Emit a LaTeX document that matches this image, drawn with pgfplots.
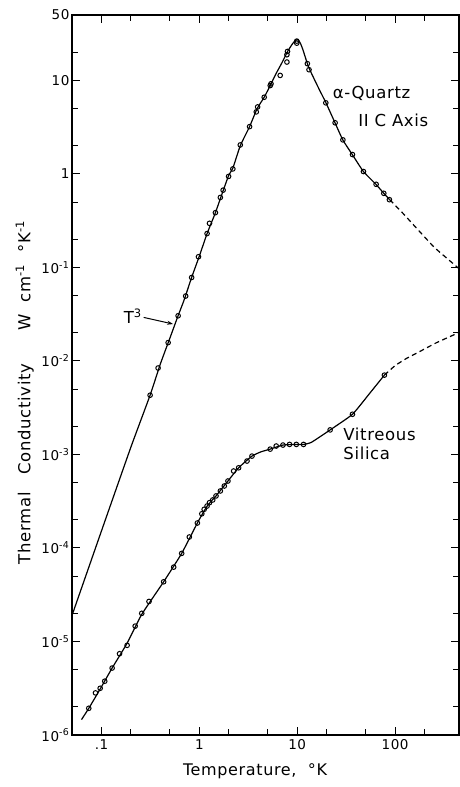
\documentclass[border=0pt]{standalone}
\usepackage{fontspec}
\setmainfont{DejaVu Sans}[LetterSpace=4]
\usepackage{pgfplots}
\pgfplotsset{compat=1.18}
\usetikzlibrary{arrows.meta}

% alpha-quartz, parallel to c axis: measured points
\pgfplotstableread{
T k
0.314 4.3e-3
0.379 8.4e-3
0.48 0.0157
0.607 0.0304
0.725 0.0494
0.834 0.078
0.98 0.130
1.2 0.23
1.27 0.296
1.46 0.385
1.64 0.56
1.75 0.67
1.99 0.94
2.2 1.13
2.62 2.04
3.26 3.2
3.82 4.6
3.94 5.2
4.6 6.6
5.3 8.8
5.4 9.2
6.7 11.3
7.85 15.7
7.85 18.8
7.96 20.4
9.9 25
9.9 26.3
12.7 15.1
13.2 13.0
19.6 5.75
24.4 3.52
29.3 2.31
36.7 1.61
47.5 1.06
64 0.774
76.7 0.62
87.5 0.53
}\quartzpts

% alpha-quartz: drawn curve
\pgfplotstableread{
T k
0.05 1.9e-5
0.1 1.52e-4
0.2 1.2e-3
0.314 4.3e-3
0.4 9.3e-3
0.5 0.0175
0.6 0.0295
0.7 0.045
0.834 0.078
1.0 0.132
1.2 0.23
1.46 0.385
1.75 0.66
2.0 0.97
2.2 1.15
2.62 2.0
3.26 3.2
3.9 5.0
4.6 6.6
5.3 8.8
6.0 11.5
7.0 15.5
8.0 20.5
9.0 24.8
9.7 27.0
10.2 27.3
10.8 24.8
11.4 21.5
12.2 17.2
13.1 13.8
15.0 10.2
17.0 7.8
19.6 5.8
24.4 3.5
29.3 2.3
36.7 1.6
47.5 1.06
64 0.77
76.7 0.62
88 0.53
}\quartzline

% alpha-quartz: extrapolated part
\pgfplotstableread{
T k
88 0.53
120 0.38
170 0.255
250 0.165
342 0.124
450 0.097
}\quartzext

% vitreous silica: measured points
\pgfplotstableread{
T k
0.0742 1.93e-6
0.0869 2.82e-6
0.097 3.16e-6
0.108 3.76e-6
0.1285 5.2e-6
0.153 7.4e-6
0.183 9.1e-6
0.221 1.46e-5
0.258 2.0e-5
0.306 2.68e-5
0.432 4.35e-5
0.547 6.24e-5
0.66 8.75e-5
0.79 1.31e-4
0.955 1.85e-4
1.06 2.32e-4
1.12 2.59e-4
1.2 2.81e-4
1.27 3.05e-4
1.37 3.26e-4
1.48 3.6e-4
1.64 4.07e-4
1.8 4.6e-4
1.96 5.2e-4
2.24 6.65e-4
2.52 7.2e-4
3.07 8.5e-4
3.45 9.6e-4
5.3 1.14e-3
6.1 1.23e-3
7.15 1.26e-3
8.35 1.28e-3
9.8 1.28e-3
11.6 1.28e-3
21.7 1.83e-3
36.7 2.69e-3
77.8 7.05e-3
}\silicapts

% vitreous silica: drawn curve
\pgfplotstableread{
T k
0.0625 1.46e-6
0.0742 1.93e-6
0.097 3.1e-6
0.1285 5.2e-6
0.183 9.6e-6
0.258 1.95e-5
0.432 4.35e-5
0.66 8.75e-5
0.955 1.85e-4
1.2 2.8e-4
1.48 3.6e-4
1.96 5.2e-4
2.52 7.2e-4
3.45 9.6e-4
4.3 1.07e-3
5.3 1.14e-3
7.15 1.26e-3
9.8 1.28e-3
11.6 1.28e-3
14.0 1.35e-3
21.7 1.83e-3
36.7 2.69e-3
55 4.5e-3
77.8 7.05e-3
}\silicaline

% vitreous silica: extrapolated part
\pgfplotstableread{
T k
77.8 7.05e-3
100 8.9e-3
130 0.0106
166 0.0121
266 0.0157
450 0.0201
}\silicaext

\begin{document}
\begin{tikzpicture}
\begin{axis}[
  at={(0,0)}, anchor=south west,
  scale only axis, width=387pt, height=720pt,
  xmode=log, ymode=log,
  xmin=0.05, xmax=450, ymin=1e-6, ymax=50,
  axis line style={line width=1.1pt},
  tick align=inside,
  major tick length=8pt, minor tick length=6pt,
  every tick/.style={black, line width=1pt},
  xtick={0.1,1,10,100},
  xticklabels={.1,1,10,100},
  minor xtick={0.2,0.5,2,5,20,50,200},
  ytick={1e-6,1e-5,1e-4,1e-3,1e-2,1e-1,1,10,50},
  yticklabels={10\textsuperscript{-6},10\textsuperscript{-5},10\textsuperscript{-4},10\textsuperscript{-3},10\textsuperscript{-2},10\textsuperscript{-1},1,10,50},
  minor ytick={2e-6,5e-6,2e-5,5e-5,2e-4,5e-4,2e-3,5e-3,2e-2,5e-2,0.2,0.5,2,5,20},
  tick label style={font=\fontsize{13.5}{15}\selectfont},
  xticklabel style={yshift=-1pt},
  yticklabel style={xshift=1pt},
  xlabel={Temperature,\ \ °K},
  ylabel={Thermal\ \ \ Conductivity\qquad W\ \ cm\textsuperscript{-1}\ \ °K\textsuperscript{-1}},
  xlabel style={at={(axis description cs:0.473,-0.051)}, anchor=center, font=\fontsize{16}{18}\selectfont},
  ylabel style={at={(axis description cs:-0.122,0.476)}, anchor=center, rotate=0, font=\fontsize{16.5}{18}\selectfont},
  clip=false,
]
% alpha-quartz
\addplot[black, line width=1.2pt, no marks, smooth, tension=0.3] table[x=T, y=k] {\quartzline};
\addplot[black, line width=1.2pt, no marks, smooth, tension=0.3, dash pattern=on 5pt off 3.5pt] table[x=T, y=k] {\quartzext};
\addplot[only marks, mark=o, mark size=2.3pt, mark options={black, fill=white, line width=1pt}] table[x=T, y=k] {\quartzpts};
% vitreous silica
\addplot[black, line width=1.2pt, no marks, smooth, tension=0.3] table[x=T, y=k] {\silicaline};
\addplot[black, line width=1.2pt, no marks, smooth, tension=0.3, dash pattern=on 5pt off 3.5pt] table[x=T, y=k] {\silicaext};
\addplot[only marks, mark=o, mark size=2.3pt, mark options={black, fill=white, line width=1pt}] table[x=T, y=k] {\silicapts};

% annotations
\node[anchor=west, font=\fontsize{16.5}{18}\selectfont, inner sep=0pt] at (axis cs:23,7.2) {α-Quartz};
\node[anchor=west, font=\fontsize{16.5}{18}\selectfont, inner sep=0pt] at (axis cs:41.9,3.72) {II C Axis};
\node[anchor=west, font=\fontsize{16.5}{18}\selectfont, inner sep=0pt] at (axis cs:29.5,1.66e-3) {Vitreous};
\node[anchor=west, font=\fontsize{16.5}{18}\selectfont, inner sep=0pt] at (axis cs:29.5,1.04e-3) {Silica};
\node[anchor=east, font=\fontsize{16.5}{18}\selectfont, inner sep=1pt] at (axis cs:0.265,0.0300) {T\textsuperscript{3}};
\draw[-{Stealth[length=6pt,width=4pt]}, line width=1pt] (axis cs:0.27,0.0292) -- (axis cs:0.54,0.0248);
\end{axis}
\pgfresetboundingbox
\path (-72pt,-52pt) rectangle (387pt,735pt);
\end{tikzpicture}
\end{document}
